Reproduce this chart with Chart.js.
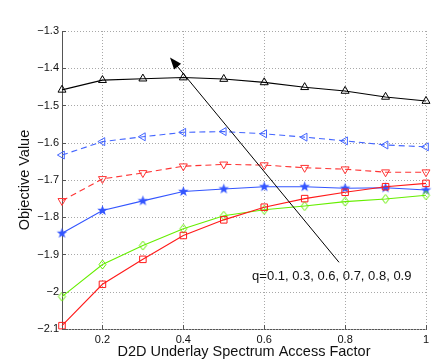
<!DOCTYPE html>
<html lang="en">
<head>
    <meta charset="UTF-8">
    <title>Objective Value vs D2D Underlay Spectrum Access Factor</title>
    <script src="https://cdn.jsdelivr.net/npm/chart.js"></script>
    <style>
        html, body { margin: 0; padding: 0; background: #fff; }
        #wrap { width: 436px; height: 362px; }
    </style>
</head>
<body>
    <div id="wrap"><canvas id="objChart" width="436" height="362"></canvas></div>

    <script>
        // access factor (x) and one curve per q
        const accessFactor = [0.1, 0.2, 0.3, 0.4, 0.5, 0.6, 0.7, 0.8, 0.9, 1.0];
        const q01 = [-2.091, -1.980, -1.913, -1.849, -1.807, -1.773, -1.750, -1.733, -1.718, -1.709];
        const q03 = [-2.013, -1.927, -1.876, -1.831, -1.796, -1.780, -1.770, -1.758, -1.751, -1.741];
        const q06 = [-1.843, -1.782, -1.756, -1.731, -1.724, -1.718, -1.718, -1.722, -1.721, -1.727];
        const q07 = [-1.756, -1.697, -1.681, -1.663, -1.658, -1.660, -1.667, -1.671, -1.679, -1.679];
        const q08 = [-1.633, -1.597, -1.584, -1.572, -1.570, -1.576, -1.585, -1.595, -1.606, -1.611];
        const q09 = [-1.458, -1.432, -1.428, -1.425, -1.429, -1.438, -1.451, -1.461, -1.477, -1.488];

        const xTicks = [0.2, 0.4, 0.6, 0.8, 1];
        const yTicks = [-2.1, -2.0, -1.9, -1.8, -1.7, -1.6, -1.5, -1.4, -1.3];

        const noteText = 'q=0.1, 0.3, 0.6, 0.7, 0.8, 0.9';

        const pts = ys => accessFactor.map((x, i) => ({ x: x, y: ys[i] }));

        // filled five point star marker
        function starMarker(color) {
            const c = document.createElement('canvas');
            c.width = 13; c.height = 13;
            const g = c.getContext('2d');
            g.fillStyle = color;
            g.beginPath();
            for (let i = 0; i < 10; i++) {
                const r = i % 2 === 0 ? 5.5 : 2.3;
                const a = -Math.PI / 2 + i * Math.PI / 5;
                const px = 6.5 + Math.cos(a) * r, py = 6.5 + Math.sin(a) * r;
                if (i === 0) g.moveTo(px, py); else g.lineTo(px, py);
            }
            g.closePath();
            g.fill();
            return c;
        }

        // tall diamond marker
        function diamondMarker(color) {
            const c = document.createElement('canvas');
            c.width = 11; c.height = 13;
            const g = c.getContext('2d');
            g.strokeStyle = color;
            g.lineWidth = 1;
            g.beginPath();
            g.moveTo(5.5, 2); g.lineTo(9, 6.5); g.lineTo(5.5, 11); g.lineTo(2, 6.5);
            g.closePath();
            g.stroke();
            return c;
        }

        // dotted grid, drawn under the curves
        const dottedGrid = {
            id: 'dottedGrid',
            beforeDatasetsDraw(chart) {
                const { ctx, scales: { x, y }, chartArea } = chart;
                ctx.save();
                ctx.strokeStyle = '#a8a8a8';
                ctx.lineWidth = 1;
                ctx.setLineDash([1, 2]);
                ctx.beginPath();
                xTicks.forEach(v => {
                    const px = Math.round(x.getPixelForValue(v)) + 0.5;
                    ctx.moveTo(px, chartArea.top);
                    ctx.lineTo(px, chartArea.bottom);
                });
                yTicks.forEach(v => {
                    const py = Math.round(y.getPixelForValue(v)) + 0.5;
                    ctx.moveTo(chartArea.left, py);
                    ctx.lineTo(chartArea.right, py);
                });
                ctx.stroke();
                ctx.restore();
            }
        };

        const annotate = {
            id: 'annotate',
            afterDatasetsDraw(chart) {
                const { ctx, scales: { x, y }, chartArea } = chart;
                ctx.save();
                // inward tick marks
                ctx.strokeStyle = '#555';
                ctx.lineWidth = 1;
                ctx.beginPath();
                xTicks.forEach(v => {
                    const px = Math.round(x.getPixelForValue(v)) + 0.5;
                    ctx.moveTo(px, chartArea.bottom);
                    ctx.lineTo(px, chartArea.bottom - 4);
                });
                yTicks.forEach(v => {
                    const py = Math.round(y.getPixelForValue(v)) + 0.5;
                    ctx.moveTo(chartArea.left, py);
                    ctx.lineTo(chartArea.left + 4, py);
                });
                ctx.stroke();

                // arrow
                const x0 = x.getPixelForValue(0.785), y0 = y.getPixelForValue(-1.921);
                const x1 = x.getPixelForValue(0.367), y1 = y.getPixelForValue(-1.371);
                const ang = Math.atan2(y1 - y0, x1 - x0);
                ctx.strokeStyle = '#000';
                ctx.lineWidth = 1;
                ctx.beginPath();
                ctx.moveTo(x0, y0);
                ctx.lineTo(x1 - Math.cos(ang) * 6, y1 - Math.sin(ang) * 6);
                ctx.stroke();
                ctx.fillStyle = '#000';
                ctx.beginPath();
                ctx.moveTo(x1, y1);
                ctx.lineTo(x1 - Math.cos(ang) * 12 + Math.sin(ang) * 4.5, y1 - Math.sin(ang) * 12 - Math.cos(ang) * 4.5);
                ctx.lineTo(x1 - Math.cos(ang) * 12 - Math.sin(ang) * 4.5, y1 - Math.sin(ang) * 12 + Math.cos(ang) * 4.5);
                ctx.closePath();
                ctx.fill();

                // note
                ctx.fillStyle = '#111';
                ctx.font = '13px "Liberation Sans", Arial, sans-serif';
                ctx.textAlign = 'left';
                ctx.textBaseline = 'middle';
                ctx.fillText(noteText, x.getPixelForValue(0.570), y.getPixelForValue(-1.958));
                ctx.restore();
            }
        };

        const font = { family: '"Liberation Sans", Arial, sans-serif' };

        const ctx = document.getElementById('objChart').getContext('2d');
        const objChart = new Chart(ctx, {
            type: 'line',
            data: {
                datasets: [{
                    label: 'q=0.1',
                    data: pts(q01),
                    borderColor: '#ff1a1a',
                    pointStyle: 'rect',
                    pointRadius: 4.6,
                    pointBorderColor: '#ff1a1a'
                }, {
                    label: 'q=0.3',
                    data: pts(q03),
                    borderColor: '#66ee00',
                    pointStyle: diamondMarker('#66ee00'),
                    pointRadius: 5
                }, {
                    label: 'q=0.6',
                    data: pts(q06),
                    borderColor: '#3355ff',
                    pointStyle: starMarker('#3355ff'),
                    pointRadius: 5
                }, {
                    label: 'q=0.7',
                    data: pts(q07),
                    borderColor: '#ff3333',
                    borderDash: [6, 4],
                    pointStyle: 'triangle',
                    pointRotation: 180,
                    pointRadius: 4.6,
                    pointBorderColor: '#ff3333'
                }, {
                    label: 'q=0.8',
                    data: pts(q08),
                    borderColor: '#4466ff',
                    borderDash: [6, 4],
                    pointStyle: 'triangle',
                    pointRotation: -90,
                    pointRadius: 4.6,
                    pointBorderColor: '#4466ff'
                }, {
                    label: 'q=0.9',
                    data: pts(q09),
                    borderColor: '#000',
                    pointStyle: 'triangle',
                    pointRadius: 4.6,
                    pointBorderColor: '#000'
                }]
            },
            options: {
                responsive: false,
                animation: false,
                layout: { padding: { top: 31, right: 10, left: 0, bottom: 0 } },
                elements: {
                    line: { borderWidth: 1.1, tension: 0 },
                    point: { backgroundColor: 'rgba(0,0,0,0)', borderWidth: 1 }
                },
                datasets: { line: { clip: false } },
                plugins: {
                    legend: { display: false },
                    tooltip: { enabled: false }
                },
                scales: {
                    x: {
                        type: 'linear',
                        min: 0.1,
                        max: 1,
                        afterBuildTicks: s => { s.ticks = xTicks.map(v => ({ value: v })); },
                        afterFit: s => { s.height = 33; },
                        grid: { color: 'rgba(0,0,0,0)', drawTicks: false },
                        border: { display: true, color: '#555', width: 1 },
                        ticks: {
                            padding: 4,
                            maxRotation: 0,
                            color: '#111',
                            font: { ...font, size: 11 },
                            callback: v => String(Math.round(v * 10) / 10)
                        },
                        title: {
                            display: true,
                            text: 'D2D Underlay Spectrum Access Factor',
                            color: '#111',
                            font: { ...font, size: 14.5 },
                            padding: { top: 0, bottom: 1.5 }
                        }
                    },
                    y: {
                        min: -2.1,
                        max: -1.3,
                        afterBuildTicks: s => { s.ticks = yTicks.map(v => ({ value: v })); },
                        afterFit: s => { s.width = 62; },
                        grid: { color: 'rgba(0,0,0,0)', drawTicks: false },
                        border: { display: true, color: '#555', width: 1 },
                        ticks: {
                            padding: 3,
                            color: '#111',
                            font: { ...font, size: 11 },
                            callback: v => {
                                const r = Math.round(v * 10) / 10;
                                return (r < 0 ? '\u2212' : '') + String(Math.abs(r));
                            }
                        },
                        title: {
                            display: true,
                            text: 'Objective Value',
                            color: '#111',
                            font: { ...font, size: 14.5 },
                            padding: { top: 16, bottom: 0 }
                        }
                    }
                }
            },
            plugins: [dottedGrid, annotate]
        });
    </script>
</body>
</html>
